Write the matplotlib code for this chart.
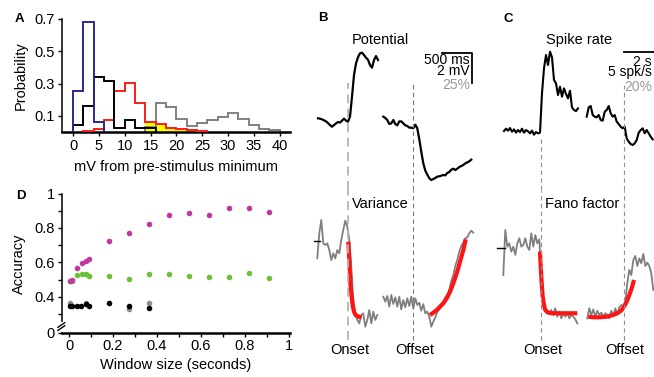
import numpy as np
import matplotlib
matplotlib.use("Agg")
import matplotlib.pyplot as plt
from matplotlib.transforms import blended_transform_factory as blend

plt.rcParams['font.family'] = ['Liberation Sans', 'DejaVu Sans']
plt.rcParams['font.size'] = 10.5

# ---------------- Panel A : histograms (bin width 2 mV) ----------------
blue_edges = [0, 2, 4, 6]
blue_vals = [0.255, 0.683, 0.06]
black_edges = [0, 2, 4, 6, 8, 10, 12, 14, 16]
black_vals = [0.042, 0.164, 0.34, 0.313, 0.027, 0.072, 0.027, 0.022]
red_edges = [2, 4, 6, 8, 10, 12, 14, 16, 18, 20, 22, 24, 26]
red_vals = [0.005, 0.02, 0.072, 0.255, 0.305, 0.18, 0.062, 0.047, 0.026, 0.016, 0.01, 0.005]
gray_edges = [14, 16, 18, 20, 22, 24, 26, 28, 30, 32, 34, 36, 38, 40]
gray_vals = [0.03, 0.18, 0.155, 0.08, 0.04, 0.056, 0.075, 0.095, 0.12, 0.078, 0.046, 0.017, 0.01]
a_xticks = [0, 5, 10, 15, 20, 25, 30, 35, 40]
a_yticks = [0.1, 0.3, 0.5, 0.7]

# ---------------- Panel D : accuracy vs window size ----------------
mag_x = [0.003, 0.012, 0.038, 0.058, 0.076, 0.093, 0.184, 0.274, 0.365, 0.455, 0.545, 0.636, 0.727, 0.818, 0.909]
mag_y = [0.493, 0.497, 0.565, 0.596, 0.607, 0.621, 0.722, 0.768, 0.823, 0.875, 0.887, 0.873, 0.916, 0.918, 0.890]
grn_x = [0.006, 0.014, 0.038, 0.058, 0.076, 0.093, 0.184, 0.274, 0.365, 0.455, 0.545, 0.636, 0.727, 0.818, 0.909]
grn_y = [0.490, 0.490, 0.526, 0.530, 0.530, 0.520, 0.520, 0.505, 0.530, 0.533, 0.522, 0.515, 0.517, 0.538, 0.511]
blk_x = [0.003, 0.015, 0.036, 0.055, 0.076, 0.093, 0.184, 0.274, 0.365]
blk_y = [0.347, 0.347, 0.347, 0.349, 0.356, 0.349, 0.366, 0.347, 0.337]
gry_x = [0.003, 0.076, 0.274, 0.365]
gry_y = [0.364, 0.366, 0.327, 0.362]

# ---------------- Panel B : membrane potential (mV) and variance (%) ----------------
pot_left = [0.11, 0.09, 0.04, -0.02, -0.09, -0.20, -0.33, -0.44, -0.33, -0.22, -0.13, -0.17,
            -0.04, 0.09, -0.04, -0.11, 0.22, 1.53, 2.94, 3.70, 4.10, 4.36, 4.40, 4.25, 4.07,
            3.94, 3.59, 3.42, 3.92, 4.18, 3.92]
pot_right = [0.22, 0.13, 0.00, -0.26, -0.22, 0.00, -0.26, -0.35, -0.09, -0.09, -0.22, -0.35,
             -0.39, -0.50, -0.50, -0.54, -0.31, -0.54, -1.26, -2.07, -2.83, -3.31, -3.57, -3.81,
             -3.92, -3.86, -3.79, -3.70, -3.68, -3.64, -3.59, -3.62, -3.46, -3.40, -3.25, -3.18,
             -3.27, -3.18, -3.07, -3.01, -2.94, -2.83, -2.77, -2.70, -2.59]
var_left = [85.8, 106.3, 117.2, 98.1, 96.7, 98.1, 92.6, 84.5, 89.9, 85.8, 92.6, 89.9, 100.8,
            109.0, 116.6, 111.7, 100.8, 79.0, 51.8, 40.9, 35.5, 32.7, 39.5, 40.9, 30.0, 35.5,
            43.6, 32.7, 42.3, 35.5, 39.5]
var_right = [54.5, 50.4, 55.1, 46.4, 55.9, 48.5, 54.0, 46.4, 54.5, 44.2, 51.8, 45.8, 53.2, 46.9,
             54.5, 45.0, 53.2, 47.7, 49.6, 43.1, 48.5, 40.9, 42.3, 38.2, 30.0, 34.1, 37.6, 42.0,
             44.2, 47.4, 49.6, 54.0, 55.9, 60.0, 67.6, 72.2, 79.6, 84.5, 91.3, 95.9, 98.6, 102.2,
             103.0, 106.3, 108.4, 106.8]
var_fit_on_t = [0.0, 0.017, 0.028, 0.039, 0.056, 0.072, 0.094, 0.122, 0.167, 0.222]
var_fit_on_v = [99.4, 84.5, 73.6, 62.7, 54.5, 47.7, 42.2, 39.5, 38.2, 37.7]
var_fit_off_t = [1.361, 1.417, 1.473, 1.528, 1.583, 1.640, 1.695, 1.750, 1.807, 1.862, 1.917, 1.957]
var_fit_off_v = [39.5, 41.4, 43.6, 46.3, 49.1, 53.2, 58.6, 65.4, 73.6, 83.1, 92.6, 101.4]
b_onset, b_offset = 0.0, 1.083

# ---------------- Panel C : spike rate (spk/s) and Fano factor (%) ----------------
spk_left = [4.11, 4.5, 4.17, 4.61, 4.0, 4.39, 3.83, 4.28, 3.94, 4.5, 3.83, 4.28, 4.06, 3.72, 4.17,
            3.5, 3.94, 3.72, 3.83, 10.39, 14.56, 16.78, 15.11, 17.33, 16.39, 12.61, 12.06, 10.11,
            11.5, 9.83, 11.22, 10.28, 9.56, 10.83, 8.06, 7.61, 7.44, 7.89]
spk_right = [6.5, 8.06, 8.28, 6.78, 6.5, 6.39, 6.78, 5.94, 5.83, 7.33, 7.61, 8.28, 7.06, 6.5, 6.78,
             5.67, 5.28, 4.83, 4.56, 4.83, 2.89, 2.33, 1.94, 1.78, 2.06, 2.61, 3.83, 4.28, 4.56,
             3.72, 4.28, 3.72, 3.17, 2.72]
fano_left = [82.2, 112.2, 101.1, 103.3, 97.8, 101.1, 95.6, 103.3, 106.7, 101.1, 102.2, 106.7, 101.1,
             98.9, 110.0, 101.1, 108.9, 103.3, 106.0, 83.3, 62.2, 58.9, 57.8, 56.7, 58.9, 55.6, 60.0,
             54.4, 57.8, 53.3, 56.7, 54.4, 57.1, 53.3, 55.6, 54.4, 52.7, 50.0]
fano_right = [53.3, 60.0, 55.6, 59.3, 54.4, 58.4, 55.6, 57.1, 54.4, 56.7, 55.6, 53.3, 58.4, 54.9,
              60.0, 55.6, 60.7, 62.2, 61.6, 64.4, 76.7, 85.6, 82.2, 92.2, 94.9, 88.2, 93.3, 90.0,
              96.2, 88.2, 90.4, 88.2, 83.3, 72.2]
fano_fit_on_t = [-0.035, 0.0, 0.05, 0.10, 0.165, 0.215, 0.30, 0.38, 0.55, 0.80, 1.13, 1.465, 1.83]
fano_fit_on_v = [97.8, 87.8, 76.7, 67.8, 62.2, 59.3, 57.8, 57.1, 56.7, 56.7, 56.7, 56.7, 56.7]
fano_fit_off_t = [2.38, 2.63, 2.965, 3.30, 3.63, 3.88, 4.05, 4.165, 4.30, 4.43, 4.55, 4.665]
fano_fit_off_v = [54.4, 54.0, 54.0, 54.4, 55.6, 57.1, 58.9, 61.1, 64.4, 68.9, 73.3, 78.9]
c_onset, c_offset = 0.0, 4.18

W, H = 654, 377


def box(x0, y0, x1, y1):
    return [x0 / W, 1 - y1 / H, (x1 - x0) / W, (y1 - y0) / H]


def ftext(px, py, s, **kw):
    fig.text(px / W, 1 - py / H, s, ha=kw.pop('ha', 'center'), va=kw.pop('va', 'center'), **kw)


fig = plt.figure(figsize=(W / 100, H / 100), dpi=100)

# ---------- A ----------
axA = fig.add_axes(box(62, 19, 290, 132))
axA.stairs(red_vals[6:], red_edges[6:], fill=True, color='#ffff00', zorder=1)
axA.stairs(gray_vals, gray_edges, color='#808080', lw=1.4, zorder=2)
axA.stairs(red_vals, red_edges, color='#ff1a1a', lw=1.4, zorder=3)
axA.stairs(black_vals, black_edges, color='black', lw=1.4, zorder=4)
axA.stairs(blue_vals, blue_edges, color='#2a2a90', lw=1.4, zorder=5)
axA.set_xlim(-2.13, 41.97)
axA.set_ylim(0, 0.7)
axA.set_xticks(a_xticks)
axA.set_yticks(a_yticks)
axA.set_yticklabels([f'{v:g}' for v in a_yticks])
axA.set_xlabel('mV from pre-stimulus minimum', labelpad=5)
axA.set_ylabel('Probability', labelpad=5)

# ---------- D ----------
axD = fig.add_axes(box(62, 193.5, 290, 333))
axD.scatter(gry_x, gry_y, s=16, color='#8c8c8c', lw=0, zorder=3)
axD.scatter(blk_x, blk_y, s=16, color='black', lw=0, zorder=4)
axD.scatter(grn_x, grn_y, s=16, color='#6cbf36', lw=0, zorder=3)
axD.scatter(mag_x, mag_y, s=16, color='#bf3a9e', lw=0, zorder=4)
axD.set_xlim(-0.032, 1.005)
axD.set_ylim(0.19, 1.0)
axD.set_xticks(np.arange(0, 1.01, 0.1))
axD.set_xticklabels(['0', '', '0.2', '', '0.4', '', '0.6', '', '0.8', '', '1'])
axD.set_yticks([0.19, 0.3, 0.4, 0.5, 0.6, 0.7, 0.8, 0.9, 1.0])
axD.set_yticklabels(['0', '', '0.4', '', '0.6', '', '0.8', '', '1'])
axD.set_xlabel('Window size (seconds)', labelpad=4)
axD.set_ylabel('Accuracy', labelpad=6)
# axis break marks
tr = blend(axD.transAxes, axD.transData)
axD.plot([0, 0], [0.21, 0.245], color='white', lw=3, transform=tr, clip_on=False, zorder=5)
for dy in (0.0, 0.018):
    axD.plot([-0.018, 0.012], [0.205 + dy, 0.232 + dy], color='black', lw=1.0,
             transform=tr, clip_on=False, zorder=6)

for ax in (axA, axD):
    for s in ('top', 'right'):
        ax.spines[s].set_visible(False)
    ax.spines['left'].set_linewidth(1.1)
    ax.spines['bottom'].set_linewidth(1.8)
    ax.tick_params(direction='out', length=3, width=1.0, pad=2, labelsize=10.5)
axD.tick_params(axis='x', pad=1)

# ---------- B ----------
axB1 = fig.add_axes(box(300, 30, 480, 190))
axB1.set_xlim(-0.805, 2.195)
axB1.set_ylim(-4.575, 5.882)
axB2 = fig.add_axes(box(300, 190, 480, 377))
axB2.set_xlim(-0.805, 2.195)
axB2.set_ylim(-11.1, 141.67)

axB1.plot(np.linspace(-0.505, 0.495, len(pot_left)), pot_left, color='black', lw=1.6)
axB1.plot(np.linspace(0.583, 2.05, len(pot_right)), pot_right, color='black', lw=1.6)
axB1.vlines(b_onset, -4.575, 2.42, colors='#b4b4b4', lw=1.3, linestyles=(0, (5, 3)))
axB1.vlines(b_offset, -4.575, 2.42, colors='#7a7a7a', lw=0.8, linestyles=(0, (4, 3)))
axB1.plot([1.567, 2.067, 2.067], [4.4, 4.4, 2.4], color='black', lw=1.3)
axB1.text(2.03, 3.55, '500 ms\n2 mV', ha='right', va='center', linespacing=0.72, fontsize=10)
axB1.text(2.03, 2.3, '25%', ha='right', va='center', color='#999999', fontsize=10)

axB2.plot(np.linspace(-0.517, 0.483, len(var_left)), var_left, color='#7f7f7f', lw=1.3)
axB2.plot(np.linspace(0.583, 2.083, len(var_right)), var_right, color='#7f7f7f', lw=1.3)
axB2.plot(var_fit_on_t, var_fit_on_v, color='#ff1414', lw=3, solid_capstyle='butt')
axB2.plot(var_fit_off_t, var_fit_off_v, color='#ff1414', lw=3, solid_capstyle='butt')
axB2.plot([-0.572, -0.472], [100, 100], color='black', lw=1.0)
axB2.vlines(b_onset, 19.1, 141.67, colors='#b4b4b4', lw=1.3, linestyles=(0, (5, 3)))
axB2.vlines(b_offset, 19.1, 141.67, colors='#7a7a7a', lw=0.8, linestyles=(0, (4, 3)))
tB = blend(axB2.transData, axB2.transAxes)
axB2.text(b_onset + 0.03, 0.144, 'Onset', transform=tB, ha='center', va='center')
axB2.text(b_offset + 0.03, 0.144, 'Offset', transform=tB, ha='center', va='center')

# ---------- C ----------
axC1 = fig.add_axes(box(490, 30, 654, 190))
axC1.set_xlim(-2.535, 5.665)
axC1.set_ylim(-5.72, 20.95)
axC2 = fig.add_axes(box(490, 190, 654, 377))
axC2.set_xlim(-2.535, 5.665)
axC2.set_ylim(14.2, 138.87)

axC1.plot(np.linspace(-1.835, 1.865, len(spk_left)), spk_left, color='black', lw=1.5)
axC1.plot(np.linspace(2.3, 5.6, len(spk_right)), spk_right, color='black', lw=1.5)
axC1.vlines(c_onset, -5.72, 3.12, colors='#909090', lw=0.8, linestyles=(0, (4, 3)))
axC1.vlines(c_offset, -5.72, 11.78, colors='#909090', lw=0.8, linestyles=(0, (4, 3)))
axC1.plot([c_offset, c_offset + 2.0, c_offset + 2.0], [17.23, 17.23, 12.23], color='black',
          lw=1.3, clip_on=False)
axC1.text(5.56, 14.78, '2 s\n5 spk/s', ha='right', va='center', linespacing=0.72, fontsize=10)
axC1.text(5.56, 11.4, '20%', ha='right', va='center', color='#999999', fontsize=10)

axC2.plot(np.linspace(-1.87, 1.83, len(fano_left)), fano_left, color='#7f7f7f', lw=1.3)
axC2.plot(np.linspace(2.33, 5.63, len(fano_right)), fano_right, color='#7f7f7f', lw=1.3)
axC2.plot(fano_fit_on_t, fano_fit_on_v, color='#ff1414', lw=3, solid_capstyle='butt')
axC2.plot(fano_fit_off_t, fano_fit_off_v, color='#ff1414', lw=3, solid_capstyle='butt')
axC2.plot([-2.185, -1.785], [100, 100], color='black', lw=1.0)
axC2.vlines(c_onset, 38.9, 138.87, colors='#909090', lw=0.8, linestyles=(0, (4, 3)))
axC2.vlines(c_offset, 38.9, 138.87, colors='#909090', lw=0.8, linestyles=(0, (4, 3)))
tC = blend(axC2.transData, axC2.transAxes)
axC2.text(c_onset + 0.1, 0.144, 'Onset', transform=tC, ha='center', va='center')
axC2.text(c_offset + 0.04, 0.144, 'Offset', transform=tC, ha='center', va='center')

for ax in (axB1, axB2, axC1, axC2):
    ax.axis('off')

# titles and panel letters
ftext(380.7, 40, 'Potential')
ftext(380.7, 204, 'Variance')
ftext(579.3, 40, 'Spike rate')
ftext(581.7, 204, 'Fano factor')
for px, py, s in ((19.5, 19, 'A'), (323, 18, 'B'), (508, 19, 'C'), (20.7, 196, 'D')):
    ftext(px, py, s, fontweight='bold', fontsize=9.5)

fig.savefig('out.png', dpi=100)
